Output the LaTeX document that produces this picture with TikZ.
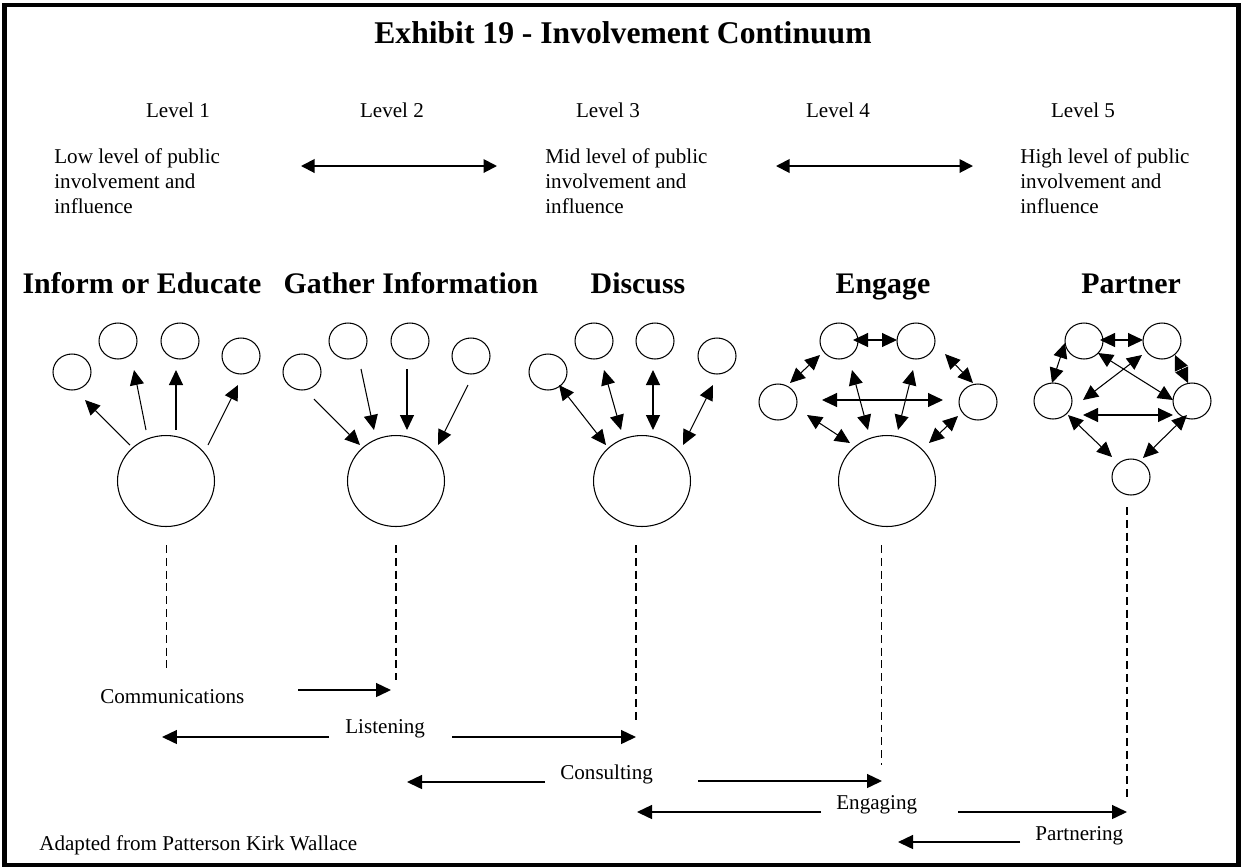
\documentclass[tikz,border=0pt]{standalone}
\usepackage{fontspec}
\setmainfont{Liberation Serif}
\usetikzlibrary{arrows.meta,shapes.geometric}
\begin{document}
\begin{tikzpicture}[x=0.02cm,y=-0.02cm,
  >={Triangle[length=0.3cm,width=0.28cm]},
  small/.style={draw,ellipse,line width=0.6pt,minimum width=0.76cm,minimum height=0.72cm,inner sep=0pt},
  big/.style={draw,ellipse,line width=0.6pt,minimum width=1.94cm,minimum height=1.82cm,inner sep=0pt},
  one/.style={->,line width=0.6pt},
  two/.style={<->,line width=0.6pt},
  scale arrow/.style={<->,line width=1.1pt,>={Triangle[length=0.27cm,width=0.27cm]}},
  span/.style={->,line width=0.8pt},
  guide/.style={line width=0.8pt,dash pattern=on 4.5pt off 2.8pt},
  lightguide/.style={line width=0.55pt,dash pattern=on 4.5pt off 2.8pt},
  body/.style={font=\fontsize{12}{14.2}\selectfont,inner sep=0pt},
  head/.style={font=\fontsize{17}{20}\selectfont\bfseries,inner sep=0pt,anchor=base}]

\useasboundingbox (0,0) rectangle (1241,867);
\draw[line width=2.3pt] (4.5,5) rectangle (1238.5,865);

% title and level scale
\node[font=\fontsize{18}{21}\selectfont\bfseries,inner sep=0pt,anchor=base] (title) at (623,43) {Exhibit 19 - Involvement Continuum};
\node[body,anchor=base] (lv1) at (178,117) {Level 1};
\node[body,anchor=base] (lv2) at (392,117) {Level 2};
\node[body,anchor=base] (lv3) at (608,117) {Level 3};
\node[body,anchor=base] (lv4) at (838,117) {Level 4};
\node[body,anchor=base] (lv5) at (1083,117) {Level 5};

\node[body,anchor=base west] (low1) at (54,163) {Low level of public};
\node[body,anchor=base west] (low2) at (54,188) {involvement and};
\node[body,anchor=base west] (low3) at (54,213) {influence};
\node[body,anchor=base west] (mid1) at (545,163) {Mid level of public};
\node[body,anchor=base west] (mid2) at (545,188) {involvement and};
\node[body,anchor=base west] (mid3) at (545,213) {influence};
\node[body,anchor=base west] (high1) at (1020,163) {High level of public};
\node[body,anchor=base west] (high2) at (1020,188) {involvement and};
\node[body,anchor=base west] (high3) at (1020,213) {influence};

\coordinate (sa1) at (301,166); \coordinate (sb1) at (497,166);
\coordinate (sa2) at (776,166); \coordinate (sb2) at (973,166);
\draw[scale arrow] (sa1) -- (sb1);
\draw[scale arrow] (sa2) -- (sb2);

% stage headings
\node[head] (h1) at (142,293) {Inform or Educate};
\node[head] (h2) at (411,293) {Gather Information};
\node[head] (h3) at (638,293) {Discuss};
\node[head] (h4) at (883,293) {Engage};
\node[head] (h5) at (1131,293) {Partner};

% Inform or Educate: one-way outward
\node[big] (B1) at (166,481) {};
\node[small] (c11) at (72,372) {};
\node[small] (c12) at (118,341) {};
\node[small] (c13) at (180,341) {};
\node[small] (c14) at (241,356) {};
\draw[one] ([shift={(-36,-36)}]B1.center) -- ([shift={(13,28)}]c11.center);
\draw[one] ([shift={(-20,-51)}]B1.center) -- ([shift={(16,29)}]c12.center);
\draw[one] ([shift={(10,-51)}]B1.center) -- ([shift={(-4,29)}]c13.center);
\draw[one] ([shift={(42,-36)}]B1.center) -- ([shift={(-3,29)}]c14.center);

% Gather Information: one-way inward
\node[big] (B2) at (396,481) {};
\node[small] (c21) at (302,372) {};
\node[small] (c22) at (348,341) {};
\node[small] (c23) at (410,341) {};
\node[small] (c24) at (471,356) {};
\draw[one] ([shift={(12,27)}]c21.center) -- ([shift={(-36,-36)}]B2.center);
\draw[one] ([shift={(13,28)}]c22.center) -- ([shift={(-22,-51)}]B2.center);
\draw[one] ([shift={(-3,28)}]c23.center) -- ([shift={(11,-51)}]B2.center);
\draw[one] ([shift={(-3,29)}]c24.center) -- ([shift={(42,-36)}]B2.center);

% Discuss: two-way with the centre
\node[big] (B3) at (642,481) {};
\node[small] (c31) at (548,372) {};
\node[small] (c32) at (594,341) {};
\node[small] (c33) at (655,341) {};
\node[small] (c34) at (717,356) {};
\draw[two] ([shift={(11,13)}]c31.center) -- ([shift={(-36,-36)}]B3.center);
\draw[two] ([shift={(10,29)}]c32.center) -- ([shift={(-21,-51)}]B3.center);
\draw[two] ([shift={(-2,29)}]c33.center) -- ([shift={(11,-51)}]B3.center);
\draw[two] ([shift={(-4,29)}]c34.center) -- ([shift={(41,-36)}]B3.center);

% Engage: everyone talks to everyone and the centre
\node[big] (B4) at (887,481) {};
\node[small] (e1) at (839,341) {};
\node[small] (e2) at (916,341) {};
\node[small] (e3) at (778,402) {};
\node[small] (e4) at (978,402) {};
\draw[two] ([shift={(14,-1)}]e1.center) -- ([shift={(-19,-1)}]e2.center);
\draw[two] ([shift={(-19,14)}]e1.center) -- ([shift={(12,-19)}]e3.center);
\draw[two] ([shift={(29,13)}]e2.center) -- ([shift={(-5,-19)}]e4.center);
\draw[two] ([shift={(44,-2)}]e3.center) -- ([shift={(-35,-2)}]e4.center);
\draw[two] ([shift={(13,29)}]e1.center) -- ([shift={(-19,-51)}]B4.center);
\draw[two] ([shift={(-3,29)}]e2.center) -- ([shift={(11,-51)}]B4.center);
\draw[two] ([shift={(29,13)}]e3.center) -- ([shift={(-37,-38)}]B4.center);
\draw[two] ([shift={(-20,14)}]e4.center) -- ([shift={(42,-38)}]B4.center);

% Partner: a network of equals
\node[small] (p1) at (1084,341) {};
\node[small] (p2) at (1162,341) {};
\node[small] (p3) at (1053,401) {};
\node[small] (p4) at (1192,401) {};
\node[small] (p5) at (1131,477) {};
\draw[two] ([shift={(16,-1)}]p1.center) -- ([shift={(-19,-1)}]p2.center);
\draw[two] ([shift={(-19,2)}]p1.center) -- ([shift={(-1,-18)}]p3.center);
\draw[two] ([shift={(13,14)}]p2.center) -- ([shift={(-4,-18)}]p4.center);
\draw[two] ([shift={(14,12)}]p1.center) -- ([shift={(-19,-1)}]p4.center);
\draw[two] ([shift={(-20,14)}]p2.center) -- ([shift={(30,-1)}]p3.center);
\draw[two] ([shift={(30,14)}]p3.center) -- ([shift={(-19,14)}]p4.center);
\draw[two] ([shift={(15,14)}]p3.center) -- ([shift={(-19,-20)}]p5.center);
\draw[two] ([shift={(-5,14)}]p4.center) -- ([shift={(12,-19)}]p5.center);

% drop lines from each stage
\coordinate (d1a) at (166,545);  \coordinate (d1b) at (166,672);
\coordinate (d2a) at (396,545);  \coordinate (d2b) at (396,680);
\coordinate (d3a) at (636,545);  \coordinate (d3b) at (636,720);
\coordinate (d4a) at (881,545);  \coordinate (d4b) at (881,765);
\coordinate (d5a) at (1127,507); \coordinate (d5b) at (1127,797);
\draw[lightguide] (d1a) -- (d1b);
\draw[guide] (d2a) -- (d2b);
\draw[guide] (d3a) -- (d3b);
\draw[lightguide] (d4a) -- (d4b);
\draw[guide] (d5a) -- (d5b);

% reach of each activity
\node[body,anchor=base west] (comm) at (100,703) {Communications};
\node[body,anchor=base west] (list) at (345,733) {Listening};
\node[body,anchor=base west] (cons) at (560,779) {Consulting};
\node[body,anchor=base west] (enga) at (836,809) {Engaging};
\node[body,anchor=base west] (part) at (1035,840) {Partnering};
\node[body,anchor=base west] (src) at (39,850) {Adapted from Patterson Kirk Wallace};

\coordinate (cm0) at (298,690); \coordinate (cm1) at (391,690);
\coordinate (li0) at (329,737); \coordinate (li1) at (162,737);
\coordinate (li2) at (452,737); \coordinate (li3) at (636,737);
\coordinate (co0) at (545,782); \coordinate (co1) at (407,782);
\coordinate (co2) at (698,781); \coordinate (co3) at (882,781);
\coordinate (en0) at (821,812); \coordinate (en1) at (637,812);
\coordinate (en2) at (958,812); \coordinate (en3) at (1127,812);
\coordinate (pa0) at (1020,842); \coordinate (pa1) at (898,842);
\draw[span] (cm0) -- (cm1);
\draw[span] (li0) -- (li1);
\draw[span] (li2) -- (li3);
\draw[span] (co0) -- (co1);
\draw[span] (co2) -- (co3);
\draw[span] (en0) -- (en1);
\draw[span] (en2) -- (en3);
\draw[span] (pa0) -- (pa1);
\end{tikzpicture}
\end{document}
